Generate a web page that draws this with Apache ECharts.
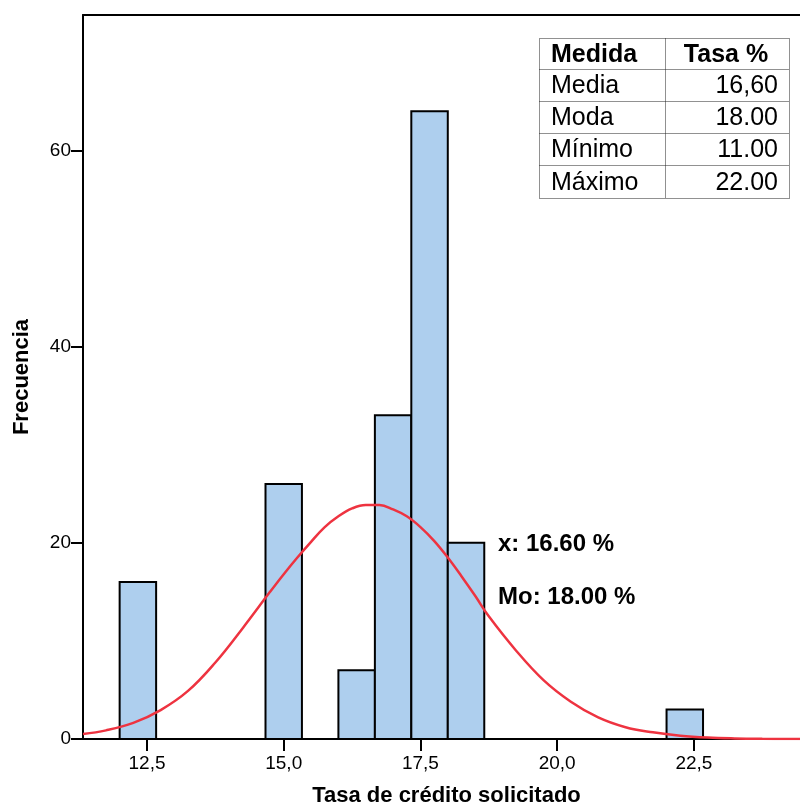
<!DOCTYPE html>
<html>
<head>
<meta charset="utf-8">
<script src="https://cdn.jsdelivr.net/npm/echarts@6/dist/echarts.min.js"></script>
<style>
  html, body { margin: 0; padding: 0; background: #fff; }
  #main { width: 800px; height: 812px; }
</style>
</head>
<body>
<div id="main"></div>
<script>
// histograma: limites de cada clase y frecuencia
var binLo = [12.0, 14.667, 16.0, 16.667, 17.333, 18.0, 22.0];
var binHi = [12.667, 15.333, 16.667, 17.333, 18.0, 18.667, 22.667];
var counts = [16, 26, 7, 33, 64, 20, 3];

// curva normal
var curveX = [11.33, 11.75, 12.25, 12.75, 13.25, 13.75, 14.25, 14.75, 15.0, 15.25, 15.5, 15.75, 16.0, 16.25, 16.5, 16.75, 17.0, 17.25, 17.5, 17.75, 18.0, 18.25, 18.5, 18.75, 19.25, 19.75, 20.25, 20.75, 21.25, 21.75, 22.25, 22.75, 23.25, 23.75, 24.44];
var curveY = [0.5, 0.88, 1.65, 2.95, 4.9, 7.8, 11.3, 15.0, 16.8, 18.5, 20.1, 21.6, 22.7, 23.5, 23.85, 23.85, 23.4, 22.7, 21.6, 20.2, 18.5, 16.6, 14.6, 12.5, 9.0, 6.0, 3.8, 2.2, 1.2, 0.68, 0.34, 0.15, 0.06, 0.02, 0.0];

var xTicks = [12.5, 15.0, 17.5, 20.0, 22.5];
var yTicks = [0, 20, 40, 60];

// tabla de resumen
var tablaHeader = ['Medida', 'Tasa %'];
var tablaMedidas = ['Media', 'Moda', 'Mínimo', 'Máximo'];
var tablaValores = ['16,60', '18.00', '11.00', '22.00'];

var notas = ['x: 16.60 %', 'Mo: 18.00 %'];

var FONT = "'Liberation Sans', Arial, sans-serif";

var histData = [];
for (var i = 0; i < counts.length; i++) {
    histData.push([binLo[i], binHi[i], counts[i]]);
}
var curveData = curveX.map(function (x, i) { return [x, curveY[i]]; });

// celdas de la tabla
var colX = [539.5, 665.5, 789.5];
var rowY = [38.5, 69.5, 101.5, 133.5, 165.5, 198.5];
var punteado = { stroke: '#222', lineWidth: 1, lineDash: [1, 1] };
var tabla = [];
tabla.push({
    type: 'rect', shape: { x: colX[0], y: rowY[0], width: colX[2] - colX[0], height: rowY[5] - rowY[0] },
    style: Object.assign({ fill: '#fff' }, punteado)
});
for (var r = 1; r < 5; r++) {
    tabla.push({
        type: 'line', shape: { x1: colX[0], y1: rowY[r], x2: colX[2], y2: rowY[r] },
        style: punteado
    });
}
tabla.push({
    type: 'line', shape: { x1: colX[1], y1: rowY[0], x2: colX[1], y2: rowY[5] },
    style: punteado
});
tabla.push({
    type: 'text', x: 551, y: (rowY[0] + rowY[1]) / 2 + 1,
    style: { text: tablaHeader[0], font: 'bold 25px ' + FONT, fill: '#000', verticalAlign: 'middle' }
});
tabla.push({
    type: 'text', x: 726, y: (rowY[0] + rowY[1]) / 2 + 1,
    style: { text: tablaHeader[1], font: 'bold 25px ' + FONT, fill: '#000', align: 'center', verticalAlign: 'middle' }
});
for (var k = 0; k < tablaMedidas.length; k++) {
    var cy = (rowY[k + 1] + rowY[k + 2]) / 2 + 1;
    tabla.push({
        type: 'text', x: 551, y: cy,
        style: { text: tablaMedidas[k], font: '25px ' + FONT, fill: '#000', verticalAlign: 'middle' }
    });
    tabla.push({
        type: 'text', x: 778, y: cy,
        style: { text: tablaValores[k], font: '25px ' + FONT, fill: '#000', align: 'right', verticalAlign: 'middle' }
    });
}
tabla.push({
    type: 'text', x: 498, y: 544,
    style: { text: notas[0], font: 'bold 24px ' + FONT, fill: '#000', verticalAlign: 'middle' }
});
tabla.push({
    type: 'text', x: 498, y: 597,
    style: { text: notas[1], font: 'bold 24px ' + FONT, fill: '#000', verticalAlign: 'middle' }
});

var myChart = echarts.init(document.getElementById('main'));

myChart.setOption({
    animation: false,
    backgroundColor: '#fff',
    grid: { left: 83, right: 0, top: 15, bottom: 70 },
    xAxis: [
        {
            type: 'value',
            min: 11.33,
            max: 24.44,
            name: 'Tasa de crédito solicitado',
            nameLocation: 'middle',
            nameGap: 46,
            nameTextStyle: { fontFamily: FONT, fontWeight: 'bold', fontSize: 22, color: '#000', padding: [0, 0, 0, 10] },
            splitLine: { show: false },
            axisLine: { lineStyle: { color: '#000', width: 2 } },
            axisTick: { show: true, length: 12, lineStyle: { color: '#000', width: 2 }, customValues: xTicks },
            axisLabel: {
                customValues: xTicks,
                margin: 15,
                fontFamily: FONT, fontSize: 19, color: '#000',
                formatter: function (v) { return v.toFixed(1).replace('.', ','); }
            }
        },
        {
            // borde superior del marco
            type: 'value',
            position: 'top',
            min: 11.33,
            max: 24.44,
            splitLine: { show: false },
            axisLine: { show: true, lineStyle: { color: '#000', width: 2 } },
            axisTick: { show: false },
            axisLabel: { show: false }
        }
    ],
    yAxis: {
        type: 'value',
        min: 0,
        max: 73.8,
        name: 'Frecuencia',
        nameLocation: 'middle',
        nameGap: 50,
        nameTextStyle: { fontFamily: FONT, fontWeight: 'bold', fontSize: 22, color: '#000' },
        splitLine: { show: false },
        axisLine: { show: true, lineStyle: { color: '#000', width: 2 } },
        axisTick: { show: true, length: 12, lineStyle: { color: '#000', width: 2 }, customValues: yTicks },
        axisLabel: {
            customValues: yTicks,
            margin: 12,
            fontFamily: FONT, fontSize: 19, color: '#000'
        }
    },
    series: [
        {
            type: 'custom',
            data: histData,
            encode: { x: [0, 1], y: 2 },
            z: 2,
            renderItem: function (params, api) {
                var p0 = api.coord([api.value(0), api.value(2)]);
                var p1 = api.coord([api.value(1), 0]);
                return {
                    type: 'rect',
                    shape: { x: p0[0], y: p0[1], width: p1[0] - p0[0], height: p1[1] - p0[1] },
                    style: { fill: '#aecfee', stroke: '#000', lineWidth: 2 }
                };
            }
        },
        {
            type: 'line',
            data: curveData,
            smooth: 0.4,
            symbol: 'none',
            z: 3,
            lineStyle: { color: '#ee3340', width: 2.5 }
        }
    ],
    graphic: tabla
});
</script>
</body>
</html>
